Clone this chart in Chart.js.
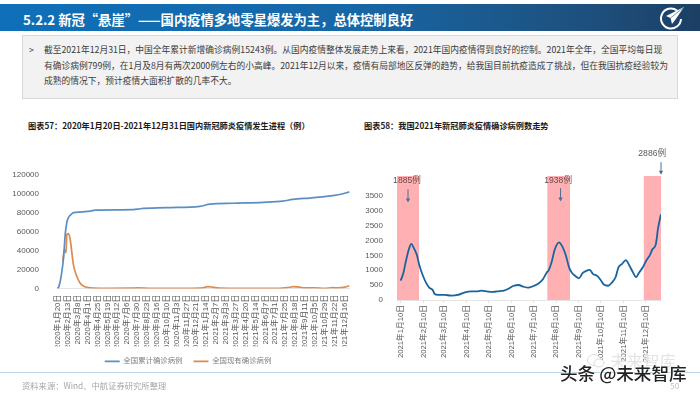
<!DOCTYPE html>
<html>
<head>
<meta charset="utf-8">
<script src="https://cdn.jsdelivr.net/npm/chart.js@4"></script>
<style>
  html, body { margin: 0; padding: 0; background: #fff; }
  body { width: 700px; height: 394px; overflow: hidden; font-family: "Noto Sans CJK SC", "Liberation Sans", sans-serif; }
  #slide { position: relative; width: 700px; height: 394px; overflow: hidden; background: #fff; filter: blur(0.35px); }
  .abs { position: absolute; white-space: nowrap; }
  #header { left: 0; top: 4px; width: 700px; height: 27px; background: linear-gradient(90deg, #0e70b9 0%, #1767a6 50%, #1e4f7c 85%, #1c3f64 100%); }
  #headline { left: 23px; top: 11px; font-size: 13.3px; line-height: 18px; font-weight: 700; color: #fff; }
  #box { left: 22px; top: 35px; width: 654px; height: 62px; background: #f2f2f2; border: 1px solid #d9d9d9; }
  .para { left: 44px; font-size: 8.75px; line-height: 14px; color: #3a3a3a; }
  .chartTitle { top: 119px; font-size: 8.2px; line-height: 12px; font-weight: 700; color: #1a1a1a; }
  #rule { left: 0; top: 372px; width: 700px; height: 1px; background: #b7d6e6; }
  #source { left: 22px; top: 379px; font-size: 8.3px; line-height: 12px; color: #a6a6a6; }
  #page { left: 670px; top: 380px; font-size: 8.4px; line-height: 10px; color: #c4c4c4; }
  #faint { left: 610px; top: 351px; font-size: 16.5px; line-height: 20px; color: #e4e4e4; text-shadow: 0 0 2px #fff; }
  #mark { left: 560px; top: 363px; font-size: 17.6px; line-height: 20px; font-weight: 500; color: #222; text-shadow: 0 0 2px #fff, 0 0 2px #fff; }
  canvas { position: absolute; }
  #cumChart { left: 0; top: 160px; }
  #ratioChart { left: 360px; top: 140px; }
</style>
</head>
<body>
<div id="slide">
<div class="abs" id="header"></div>
<div class="abs" id="headline">5.2.2 新冠“悬崖”——国内疫情多地零星爆发为主，总体控制良好</div>
<svg class="abs" style="left:658px;top:5px" width="27" height="25" viewBox="0 0 27 25">
  <path d="M19 5.5 A10 10 0 1 0 23 14" fill="none" stroke="#fff" stroke-width="2"/>
  <path d="M26 2 L8 11 L12.5 13 L14 19 L17.5 14.5 Z" fill="#fff"/>
  <path d="M25 3 L12.5 13" stroke="#1e4f7c" stroke-width="0.6"/>
</svg>
<div class="abs" id="box"></div>
<div class="abs para" style="left:29px;top:43px">&gt;</div>
<div class="abs para" style="top:43px">截至2021年12月31日，中国全年累计新增确诊病例15243例。从国内疫情整体发展走势上来看，2021年国内疫情得到良好的控制。2021年全年，全国平均每日现</div>
<div class="abs para" style="top:59px">有确诊病例799例，在1月及8月有两次2000例左右的小高峰。2021年12月以来，疫情有局部地区反弹的趋势，给我国目前抗疫造成了挑战，但在我国抗疫经验较为</div>
<div class="abs para" style="top:74px">成熟的情况下，预计疫情大面积扩散的几率不大。</div>
<div class="abs chartTitle" style="left:28px">图表57：2020年1月20日-2021年12月31日国内新冠肺炎疫情发生进程（例）</div>
<div class="abs chartTitle" style="left:364px">图表58：我国2021年新冠肺炎疫情确诊病例数走势</div>
<canvas id="cumChart" width="360" height="222"></canvas>
<canvas id="ratioChart" width="340" height="232"></canvas>
<div class="abs" id="rule"></div>
<div class="abs" id="source">资料来源：Wind、中航证券研究所整理</div>
<div class="abs" id="page">50</div>
<svg class="abs" style="left:586px;top:353px" width="20" height="16" viewBox="0 0 20 16">
  <ellipse cx="8" cy="7" rx="6.5" ry="5.5" fill="#fff" stroke="#dcdcdc"/>
  <ellipse cx="13" cy="10" rx="5" ry="4" fill="#fff" stroke="#dcdcdc"/>
</svg>
<div class="abs" id="faint">未来智库</div>
<div class="abs" id="mark">头条 @未来智库</div>
</div>
<script>
const FONT = '"Liberation Sans", "Noto Sans CJK SC", sans-serif';

// left chart
const cumTickLabels = ["2020年1月20日", "2020年2月13日", "2020年3月8日", "2020年4月1日", "2020年4月25日", "2020年5月19日", "2020年6月12日", "2020年7月6日", "2020年7月30日", "2020年8月23日", "2020年9月16日", "2020年10月10日", "2020年11月3日", "2020年11月27日", "2020年12月21日", "2021年1月14日", "2021年2月7日", "2021年3月3日", "2021年3月27日", "2021年4月20日", "2021年5月14日", "2021年6月7日", "2021年7月1日", "2021年7月25日", "2021年8月18日", "2021年9月11日", "2021年10月5日", "2021年10月29日", "2021年11月22日", "2021年12月16日"];
const cumYTicks = [0, 20000, 40000, 60000, 80000, 100000, 120000];
const cumDays = [0, 4, 8, 12, 16, 20, 24, 28, 34, 40, 56, 81, 93, 186, 202, 266, 347, 372, 428, 501, 549, 573, 614, 646, 670, 695, 711];
const cumValues = [300, 1500, 8000, 18500, 32700, 57500, 70000, 75000, 78000, 80200, 80700, 81700, 82700, 83200, 84200, 85300, 86800, 89000, 90000, 91000, 92300, 94000, 95500, 96700, 98000, 100000, 102000];
const curDays = [14, 18, 22, 24, 28, 32, 40, 48, 56, 65, 77, 105, 180, 195, 230, 300, 345, 358, 366, 378, 395, 450, 540, 565, 575, 590, 600, 625, 650, 670, 685, 700, 711];
const curValues = [29000, 41000, 38000, 57500, 58000, 52000, 25000, 13000, 6000, 2500, 1000, 300, 400, 800, 300, 200, 400, 1200, 2000, 1500, 500, 200, 300, 1400, 2000, 1500, 800, 900, 300, 1000, 700, 1500, 3000];

// right chart
const dayTickLabels = ["2021年1月10日", "2021年2月10日", "2021年3月10日", "2021年4月10日", "2021年5月10日", "2021年6月10日", "2021年7月10日", "2021年8月10日", "2021年9月10日", "2021年10月10日", "2021年11月10日", "2021年12月10日"];
const dayTicks = [9, 40, 68, 99, 129, 160, 190, 221, 252, 282, 313, 343];
const caseYTicks = [0, 500, 1000, 1500, 2000, 2500, 3000, 3500];
const caseDays = [9, 12.6, 16, 20, 23.5, 27, 31, 34.4, 39, 43.5, 48, 52.6, 55, 60, 69, 78, 87, 96.6, 105.7, 112.5, 119, 128, 135, 144, 150, 156, 162.5, 170, 176, 183, 190, 196.5, 203, 208, 210.6, 215, 219, 225, 229, 234, 239, 243, 248, 252, 257, 262, 267, 271, 277, 281, 286, 292, 297, 302, 306, 311, 316, 321, 326, 330, 334, 339, 344, 349, 352, 357, 360, 364];
const caseValues = [650, 900, 1290, 1690, 1885, 1745, 1520, 1180, 840, 585, 415, 340, 215, 170, 170, 150, 170, 260, 290, 290, 315, 280, 270, 300, 315, 380, 470, 505, 450, 415, 470, 550, 700, 920, 990, 1290, 1690, 1938, 1820, 1520, 1070, 900, 790, 730, 900, 980, 1010, 880, 810, 700, 520, 480, 585, 765, 1100, 1215, 1340, 1150, 920, 765, 920, 1090, 1330, 1520, 1690, 1880, 2420, 2886];
const bandStarts = [4, 209, 340.5];
const bandEnds = [34, 240, 364];
const noteTexts = ["1885例", "1938例", "2886例"];
const noteDays = [17.6, 223.7, 352];
const arrowDays = [19, 227, 364];
const noteLevels = [4010, 4010, 4920];
const arrowTops = [3725, 3760, 4635];
const arrowEnds = [3275, 3310, 4208];

function toPoints(xs, ys) {
  return xs.map((x, i) => ({ x: x, y: ys[i] }));
}

// keep the legend centred under the plot, not under the canvas
const legendShiftPlugin = {
  id: "legendShift",
  afterUpdate(chart) {
    chart.legend.left += 13;
    chart.legend.right += 13;
  },
};

const bandPlugin = {
  id: "bands",
  beforeDatasetsDraw(chart) {
    const { ctx, chartArea, scales } = chart;
    ctx.save();
    ctx.fillStyle = "#ffb0b3";
    bandStarts.forEach((start, i) => {
      const a = scales.x.getPixelForValue(start);
      const b = scales.x.getPixelForValue(bandEnds[i]);
      ctx.fillRect(a, chartArea.top, b - a, chartArea.bottom - chartArea.top);
    });
    ctx.restore();
  },
};

const notePlugin = {
  id: "notes",
  afterDatasetsDraw(chart) {
    const { ctx, scales } = chart;
    ctx.save();
    ctx.font = "8.6px " + FONT;
    ctx.textAlign = "center";
    ctx.textBaseline = "middle";
    noteTexts.forEach((text, i) => {
      ctx.fillStyle = i < 2 ? "#6b4b4e" : "#595959";
      ctx.fillText(text, scales.x.getPixelForValue(noteDays[i]), scales.y.getPixelForValue(noteLevels[i]));
      const x = scales.x.getPixelForValue(arrowDays[i]);
      const top = scales.y.getPixelForValue(arrowTops[i]);
      const end = scales.y.getPixelForValue(arrowEnds[i]);
      ctx.strokeStyle = ctx.fillStyle = "#4f6f92";
      ctx.lineWidth = 1;
      ctx.beginPath();
      ctx.moveTo(x, top);
      ctx.lineTo(x, end - 3);
      ctx.stroke();
      ctx.beginPath();
      ctx.moveTo(x - 2.2, end - 4);
      ctx.lineTo(x + 2.2, end - 4);
      ctx.lineTo(x, end);
      ctx.closePath();
      ctx.fill();
    });
    ctx.restore();
  },
};

Chart.defaults.font.family = FONT;
Chart.defaults.animation = false;

new Chart(document.getElementById("cumChart"), {
  type: "line",
  data: {
    datasets: [
      {
        label: "全国累计确诊病例",
        data: toPoints(cumDays, cumValues),
        borderColor: "#5b8fc4",
        backgroundColor: "#5b8fc4",
        borderWidth: 1.7,
        pointRadius: 0,
        cubicInterpolationMode: "monotone",
      },
      {
        label: "全国现有确诊病例",
        data: toPoints(curDays, curValues),
        borderColor: "#dc8a4e",
        backgroundColor: "#dc8a4e",
        borderWidth: 1.7,
        pointRadius: 0,
        cubicInterpolationMode: "monotone",
      },
    ],
  },
  plugins: [legendShiftPlugin],
  options: {
    responsive: false,
    layout: { padding: { left: 0, right: 10, top: 8, bottom: 7 } },
    scales: {
      x: {
        type: "linear",
        min: 0,
        max: 711,
        afterFit: (scale) => { scale.height = 58; },
        afterBuildTicks: (scale) => {
          scale.ticks = cumTickLabels.map((label, i) => ({ value: 2.4 + 24 * i }));
        },
        grid: { drawOnChartArea: false, drawTicks: false, color: "#e4e4e4" },
        border: { color: "#e4e4e4" },
        ticks: {
          autoSkip: false,
          minRotation: 90,
          maxRotation: 90,
          padding: 6,
          color: "#595959",
          font: { size: 7.9 },
          callback: function (value, index) { return cumTickLabels[index]; },
        },
      },
      y: {
        min: 0,
        max: 120000,
        afterFit: (scale) => { scale.width = 57; },
        afterBuildTicks: (scale) => {
          scale.ticks = cumYTicks.map((v) => ({ value: v }));
        },
        grid: { display: false },
        border: { display: false },
        ticks: { padding: 10, color: "#595959", font: { size: 8 }, callback: (value) => String(value) },
      },
    },
    plugins: {
      legend: {
        position: "bottom",
        labels: { usePointStyle: true, pointStyle: "line", pointStyleWidth: 15, color: "#7f7f7f", font: { size: 7.4 }, boxHeight: 8, padding: 11 },
      },
      tooltip: { enabled: false },
    },
  },
});

new Chart(document.getElementById("ratioChart"), {
  type: "line",
  data: {
    datasets: [
      {
        label: "确诊病例",
        data: toPoints(caseDays, caseValues),
        borderColor: "#17649f",
        borderWidth: 1.8,
        pointRadius: 0,
        cubicInterpolationMode: "monotone",
      },
    ],
  },
  plugins: [bandPlugin, notePlugin],
  options: {
    responsive: false,
    layout: { padding: { left: 0, right: 39, top: 36, bottom: 0 } },
    scales: {
      x: {
        type: "linear",
        min: 4,
        max: 364,
        afterFit: (scale) => { scale.height = 72; },
        afterBuildTicks: (scale) => {
          scale.ticks = dayTicks.map((day) => ({ value: day }));
        },
        grid: { drawOnChartArea: false, tickLength: 3, color: "#e4e4e4" },
        border: { color: "#e4e4e4" },
        ticks: {
          autoSkip: false,
          minRotation: 90,
          maxRotation: 90,
          padding: 2,
          color: "#595959",
          font: { size: 7.7 },
          callback: function (value, index) { return dayTickLabels[index]; },
        },
      },
      y: {
        min: 0,
        max: 4170,
        afterFit: (scale) => { scale.width = 37; },
        afterBuildTicks: (scale) => {
          scale.ticks = caseYTicks.map((v) => ({ value: v }));
        },
        grid: { display: false },
        border: { display: false },
        ticks: { padding: 6, color: "#595959", font: { size: 8 }, callback: (value) => String(value) },
      },
    },
    plugins: {
      legend: { display: false },
      tooltip: { enabled: false },
    },
  },
});
</script>
</body>
</html>
